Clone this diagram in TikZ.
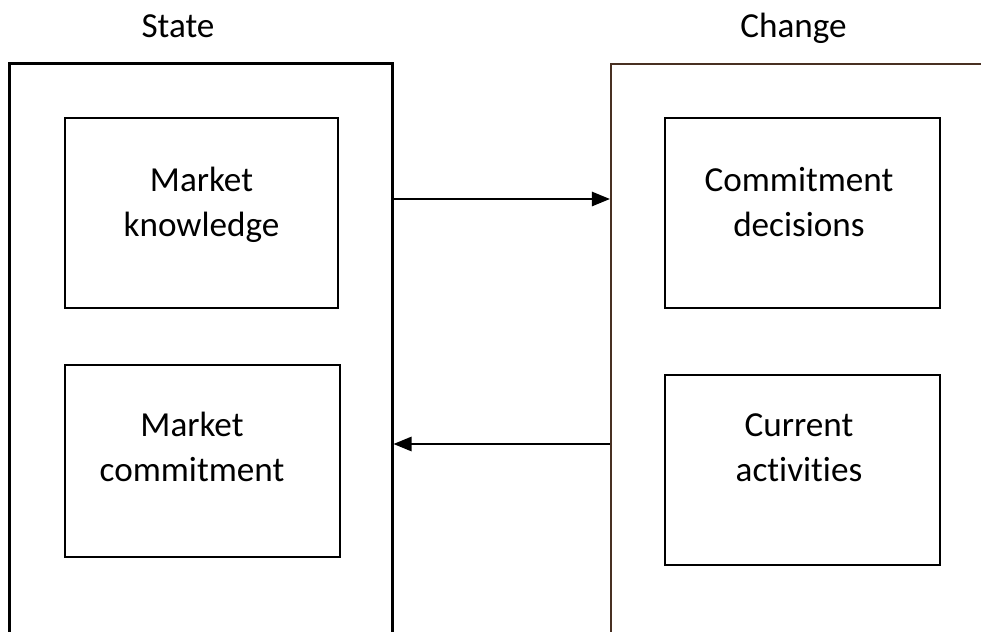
\documentclass[tikz,border=0pt]{standalone}
\usepackage{fontspec}
\setmainfont[RawFeature={-liga}]{Carlito}
\usetikzlibrary{arrows.meta}
\definecolor{ChangeEdge}{RGB}{72,48,34}

\begin{document}
\begin{tikzpicture}[x=0.025cm, y=-0.025cm]
	\tikzstyle{outer} = [rectangle, draw=black, line width=2.1pt, inner sep=0pt]
	\tikzstyle{block} = [rectangle, draw=black, line width=2pt, inner sep=0pt]
	\tikzstyle{label} = [font=\fontsize{25}{32}\selectfont, align=center]
	\tikzstyle{arrow} = [line width=1.1pt, -{Triangle[length=0.45cm, width=0.36cm]}]

	\useasboundingbox (0,0) rectangle (981,632);
	\clip (0,0) rectangle (981,632);

	% titles
	\node (statetitle) [label, anchor=base] at (178,37) {State};
	\node (changetitle) [label, anchor=base] at (793.5,37) {Change};

	% outer frames, both run past the lower edge
	\node (state) [outer, minimum width=9.55cm, minimum height=15.9cm] at (201,382) {};
	\node (change) [outer, draw=ChangeEdge, line width=1.5pt, minimum width=11.225cm, minimum height=15.9cm] at (835.5,382) {};

	% state side
	\node (knowledge) [block, minimum width=6.825cm, minimum height=4.75cm] at (201.5,213) {};
	\node (knowledgetext) [label] at (201.5,205) {Market\\knowledge};
	\node (commitment) [block, minimum width=6.875cm, minimum height=4.8cm] at (202.5,461) {};
	\node (commitmenttext) [label] at (192,447) {Market\\commitment};

	% change side
	\node (decisions) [block, minimum width=6.875cm, minimum height=4.75cm] at (802.5,213) {};
	\node (decisionstext) [label] at (799,202) {Commitment\\decisions};
	\node (activities) [block, minimum width=6.875cm, minimum height=4.75cm] at (802.5,470) {};
	\node (activitiestext) [label] at (799,448) {Current\\activities};

	\coordinate (fwd) at (500,199);
	\coordinate (back) at (500,444);
	\draw [arrow] (state.east |- fwd) -- (change.west |- fwd);
	\draw [arrow] (change.west |- back) -- (state.east |- back);
\end{tikzpicture}
\end{document}
